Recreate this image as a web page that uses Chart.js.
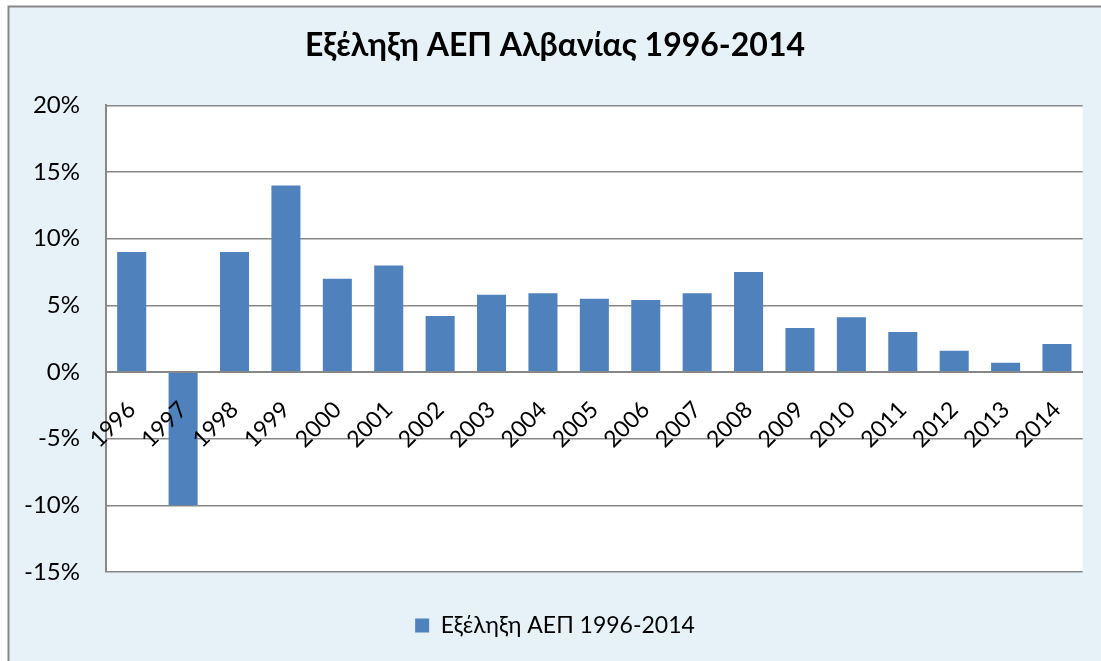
<!DOCTYPE html>
<html>
<head>
<meta charset="utf-8">
<script src="https://cdn.jsdelivr.net/npm/chart.js@4.4.1/dist/chart.umd.min.js"></script>
<style>
  html, body { margin: 0; padding: 0; background: #ffffff; }
  #wrap { width: 1101px; height: 661px; }
</style>
</head>
<body>
<div id="wrap"><canvas id="gdp"></canvas></div>
<script>
// Years and GDP growth (%)
const years = ["1996", "1997", "1998", "1999", "2000", "2001", "2002", "2003", "2004", "2005",
    "2006", "2007", "2008", "2009", "2010", "2011", "2012", "2013", "2014"];
const growth = [9.0, -10.0, 9.0, 14.0, 7.0, 8.0, 4.2, 5.8, 5.9, 5.5,
    5.4, 5.9, 7.5, 3.3, 4.1, 3.0, 1.6, 0.7, 2.1];

const chartTitle = "Εξέληξη ΑΕΠ Αλβανίας 1996-2014";
const seriesName = "Εξέληξη ΑΕΠ 1996-2014";

const barBlue = "#4f81bd";
const frameFill = "#e7f2f8";
const lineGray = "#878787";
const fontFamily = "Lato, 'Noto Sans', sans-serif";

// Paint the light blue frame and the white plot area behind the bars
const backdrop = {
    id: "backdrop",
    beforeDraw(chart) {
        const { ctx, width, height, chartArea } = chart;
        ctx.save();
        ctx.fillStyle = "#ffffff";
        ctx.fillRect(0, 0, width, height);
        ctx.fillStyle = frameFill;
        ctx.fillRect(8, 6, width - 8, height - 6);
        ctx.strokeStyle = lineGray;
        ctx.lineWidth = 2;
        ctx.beginPath();
        ctx.moveTo(8.5, height);
        ctx.lineTo(8.5, 6.5);
        ctx.lineTo(width, 6.5);
        ctx.stroke();
        ctx.fillStyle = "#ffffff";
        ctx.fillRect(chartArea.left, chartArea.top, chartArea.right - chartArea.left, chartArea.bottom - chartArea.top);
        ctx.restore();
    }
};

// blank axis, only used to reserve space
const spacer = (side, size) => ({
    type: side === "bottom" ? "category" : "linear",
    position: side,
    grid: { display: false, drawTicks: false },
    border: { display: false },
    ticks: { display: false },
    afterFit: (s) => {
        if (side === "bottom") s.height = size;
        else s.width = size;
    }
});

new Chart(document.getElementById("gdp"), {
    type: "bar",
    plugins: [backdrop],
    data: {
        labels: years,
        datasets: [{
            label: seriesName,
            data: growth,
            xAxisID: "x",
            yAxisID: "y",
            backgroundColor: barBlue,
            borderWidth: 0,
            categoryPercentage: 1,
            barPercentage: 0.565
        }]
    },
    options: {
        responsive: true,
        maintainAspectRatio: false,
        animation: false,
        layout: { padding: { left: 9, right: 0, top: 0, bottom: 14 } },
        plugins: {
            tooltip: { enabled: false },
            title: {
                display: true,
                text: chartTitle,
                color: "#000000",
                font: { family: fontFamily, size: 32, weight: "bold" },
                padding: { top: 26, bottom: 41 }
            },
            legend: {
                position: "bottom",
                labels: {
                    color: "#000000",
                    font: { family: fontFamily, size: 23 },
                    boxWidth: 14,
                    boxHeight: 14,
                    padding: 10
                }
            }
        },
        scales: {
            x: {
                position: { y: 0 },
                grid: { display: false, drawTicks: false },
                // zero line and year labels sit on top of the bars
                border: { display: true, color: lineGray, width: 2, z: 1 },
                ticks: {
                    z: 1,
                    color: "#000000",
                    font: { family: fontFamily, size: 23 },
                    minRotation: 45,
                    maxRotation: 45,
                    padding: 24,
                    autoSkip: false
                }
            },
            y: {
                min: -15,
                max: 20,
                grid: { color: lineGray, lineWidth: 1.5, drawTicks: false },
                border: { display: true, color: lineGray, width: 2 },
                ticks: {
                    stepSize: 5,
                    color: "#000000",
                    font: { family: fontFamily, size: 24 },
                    padding: 26,
                    callback: (v) => v + "%"
                },
                afterFit: (s) => { s.width = 97; }
            },
            gap: spacer("bottom", 32),
            edge: spacer("right", 18)
        }
    }
});
</script>
</body>
</html>
